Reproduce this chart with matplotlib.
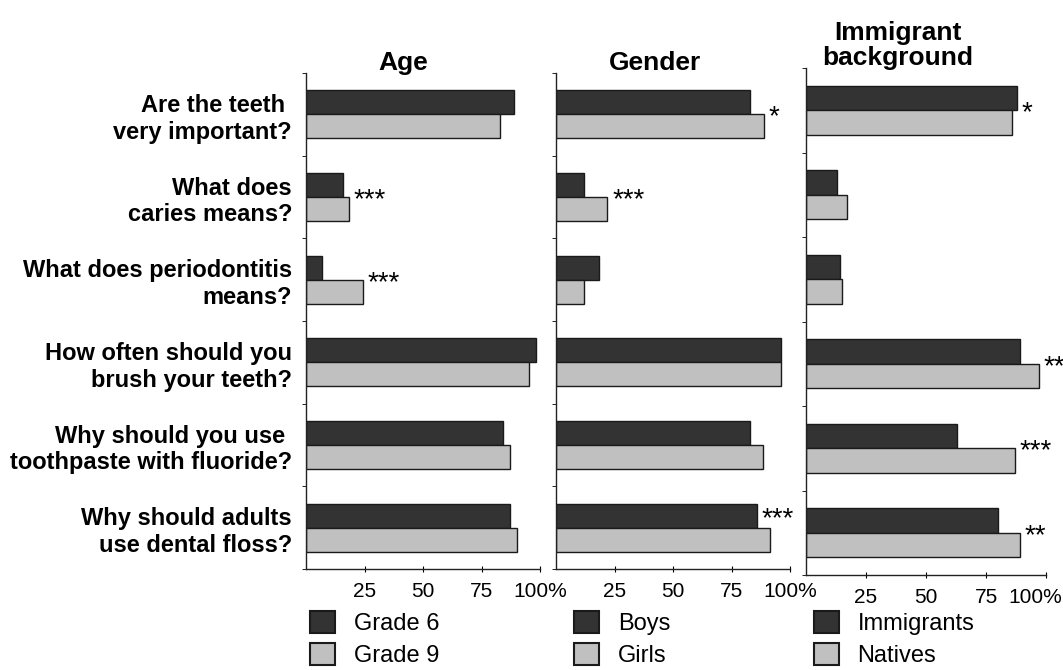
import matplotlib
matplotlib.use("Agg")
import matplotlib.pyplot as plt
import matplotlib.transforms as mtrans
from matplotlib.patches import Patch
import numpy as np

plt.rcParams['font.family'] = ['Liberation Sans', 'DejaVu Sans']

# questions (top to bottom)
questions = [
    "Are the teeth \nvery important?",
    "What does\ncaries means?",
    "What does periodontitis\nmeans?",
    "How often should you\nbrush your teeth?",
    "Why should you use \ntoothpaste with fluoride?",
    "Why should adults\nuse dental floss?",
]

# % correct answers
grade6 = [89, 16, 7, 98.5, 84, 87]
grade9 = [83, 18.5, 24.5, 95.5, 87, 90]
boys = [83, 12, 18.5, 96, 83, 86]
girls = [89, 22, 12, 96, 88.5, 91.5]
immigrants = [88, 13, 14, 89, 63, 80]
natives = [86, 17, 15, 97, 87, 89]

# significance marks: (question index, mark, where: 0 = next to dark bar, 1 = next to the pair)
stars_age = [(1, "***", 1), (2, "***", 1)]
stars_gender = [(0, "*", 1), (1, "***", 1), (5, "***", 0)]
stars_immig = [(0, "*", 1), (3, "**", 1), (4, "***", 1), (5, "**", 1)]

panel_titles = ["Age", "Gender", "Immigrant\nbackground"]
legend_labels = [["Grade 6", "Grade 9"], ["Boys", "Girls"], ["Immigrants", "Natives"]]
xtick_vals = [25, 50, 75, 100]
xtick_labels = ["25", "50", "75", "100%"]

dark = "#333333"
light = "#c0c0c0"
edge = "#1a1a1a"

W, H = 1063, 670
fig = plt.figure(figsize=(W / 100, H / 100), dpi=100)

# panel boxes in pixels: left, top, width, height
boxes = [(306, 73, 234, 496), (556, 73, 234, 496), (806, 68, 240, 507)]
title_x = [0.415, 0.423, 0.383]
legend_x = [0.017, 0.077, 0.033]

series = [(grade6, grade9), (boys, girls), (immigrants, natives)]
stars = [stars_age, stars_gender, stars_immig]

y = np.arange(len(questions))
bh = 0.29

for i, (l, t, w, h) in enumerate(boxes):
    ax = fig.add_axes([l / W, 1 - (t + h) / H, w / W, h / H])
    s_dark, s_light = series[i]
    ax.barh(y - bh / 2, s_dark, height=bh, color=dark, edgecolor=edge, linewidth=1)
    ax.barh(y + bh / 2, s_light, height=bh, color=light, edgecolor=edge, linewidth=1)

    for q, mark, k in stars[i]:
        if k == 0:
            ax.text(s_dark[q] + 2, y[q] - 0.1, mark, fontsize=20, ha='left', va='center')
        else:
            v = max(s_dark[q], s_light[q])
            ax.text(v + 2, y[q] + 0.04, mark, fontsize=20, ha='left', va='center')

    ax.set_xlim(0, 100)
    ax.set_ylim(len(questions) - 0.5, -0.5)

    for sp in ['top', 'right']:
        ax.spines[sp].set_visible(False)
    for sp in ['left', 'bottom']:
        ax.spines[sp].set_color('#222222')
        ax.spines[sp].set_linewidth(1)

    ax.set_xticks(xtick_vals)
    ax.set_xticklabels(xtick_labels, fontsize=15)
    ax.tick_params(axis='x', direction='inout', length=5, pad=7)
    if i == 2:
        # last "100%" sits a bit left of its tick in the original
        last = ax.get_xticklabels()[-1]
        last.set_transform(last.get_transform() +
                           mtrans.ScaledTranslation(-11 / 100, 0, fig.dpi_scale_trans))

    ax.set_yticks(y)
    if i == 0:
        ax.set_yticklabels(questions, fontsize=17, fontweight='bold', linespacing=1.22)
    else:
        ax.set_yticklabels([])
    ax.tick_params(axis='y', which='major', length=0, pad=10)
    ax.set_yticks(np.arange(len(questions) + 1) - 0.5, minor=True)
    ax.tick_params(axis='y', which='minor', direction='out', length=3)

    ax.text(title_x[i], 1.006, panel_titles[i], transform=ax.transAxes,
            ha='center', va='baseline', fontsize=19, fontweight='bold', linespacing=1.05)

    handles = [Patch(facecolor=dark, edgecolor=edge, linewidth=1.5),
               Patch(facecolor=light, edgecolor=edge, linewidth=1.5)]
    ax.legend(handles, legend_labels[i], loc='upper left',
              bbox_to_anchor=(legend_x[i], -(611 - (t + h)) / h),
              frameon=False, fontsize=17, handlelength=1.05, handleheight=1.05,
              handletextpad=0.8, labelspacing=0.35, borderpad=0, borderaxespad=0)

fig.savefig("out.png", dpi=100)
